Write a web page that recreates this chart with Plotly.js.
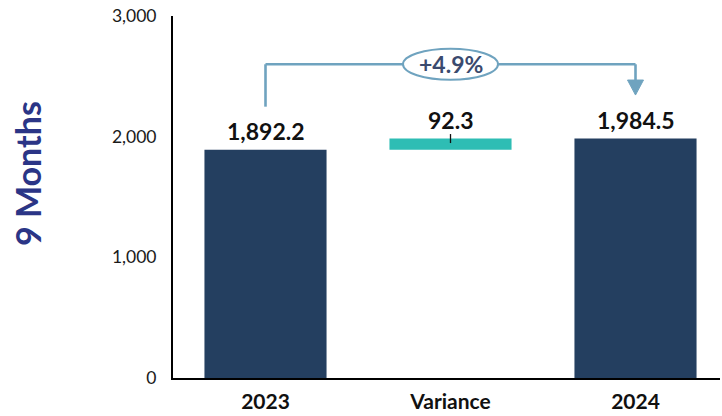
<!DOCTYPE html>
<html>
<head>
<meta charset="utf-8">
<script src="https://cdn.plot.ly/plotly-3.0.1.min.js"></script>
<style>
  html, body { margin: 0; padding: 0; background: #ffffff; }
  #chart { width: 722px; height: 416px; }
</style>
</head>
<body>
<div id="chart"></div>
<script>
// Nine-month bridge: 2023 total, variance, 2024 total
const categories = ['2023', 'Variance', '2024'];
const barBases   = [0, 1892.2, 0];
const barHeights = [1892.2, 92.3, 1984.5];
const barLabels  = ['1,892.2', '92.3', '1,984.5'];
const barColors  = ['#243F60', '#2EBDB4', '#243F60'];
const changeLabel = '+4.9%';
const yTickVals  = [0, 1000, 2000, 3000];
const yTickText  = ['0', '1,000', '2,000', '3,000'];

const idx = categories.map((_, i) => i);
const tops = barHeights.map((h, i) => h + barBases[i]);

// pixel scale helpers for decoration sizes
const catPx = 185;          // pixels per category
const unitPx = 362 / 3000;  // pixels per y unit
const dx = p => p / catPx;
const dy = p => p / unitPx;

const bridgeColor = '#6FA3BF';
const levelY = 2600;
const startY = tops[0] + dy(43);
const tipY = tops[2] + dy(43.5);
const headY = tipY + dy(15);

const trace = {
  type: 'bar',
  x: idx,
  y: barHeights,
  base: barBases,
  marker: { color: barColors, line: { width: 0 } },
  hoverinfo: 'skip',
  showlegend: false
};

const annotations = idx.map(i => ({
  x: i, y: tops[i], xref: 'x', yref: 'y',
  text: barLabels[i], showarrow: false,
  xanchor: 'center', yanchor: 'middle', yshift: 19,
  font: { family: 'Lato, sans-serif', size: 23, color: '#111111', weight: 700 }
}));

annotations.push({
  x: 1, y: levelY, xref: 'x', yref: 'y',
  text: changeLabel, showarrow: false,
  xanchor: 'center', yanchor: 'middle',
  font: { family: 'Lato, sans-serif', size: 23, color: '#3A4A6E', weight: 700 }
});

annotations.push({
  x: -146 / 547, y: (378 - 174) / 362, xref: 'paper', yref: 'paper',
  text: '9 Months', showarrow: false, textangle: -90,
  xanchor: 'center', yanchor: 'middle',
  font: { family: 'Lato, sans-serif', size: 34, color: '#2B3586', weight: 700 }
});

const shapes = [
  { type: 'line', xref: 'x', yref: 'y', x0: 0, x1: 0, y0: startY, y1: levelY,
    line: { color: bridgeColor, width: 2.6 } },
  { type: 'line', xref: 'x', yref: 'y', x0: 0, x1: 2, y0: levelY, y1: levelY,
    line: { color: bridgeColor, width: 2.6 } },
  { type: 'line', xref: 'x', yref: 'y', x0: 2, x1: 2, y0: levelY, y1: headY,
    line: { color: bridgeColor, width: 2.6 } },
  { type: 'path', xref: 'x', yref: 'y',
    path: `M ${2 - dx(8)} ${headY} L ${2 + dx(8)} ${headY} L 2 ${tipY} Z`,
    fillcolor: bridgeColor, line: { color: bridgeColor, width: 1 } },
  { type: 'circle', xref: 'x', yref: 'y',
    x0: 1 - dx(47.5), x1: 1 + dx(47.5), y0: levelY - dy(15.5), y1: levelY + dy(15.5),
    fillcolor: '#ffffff', line: { color: bridgeColor, width: 2 } },
  { type: 'line', xref: 'x', yref: 'y', x0: 1, x1: 1,
    y0: tops[1] - dy(4.5), y1: tops[1] + dy(4.5),
    line: { color: '#111111', width: 1.3 } }
];

const layout = {
  width: 722, height: 416,
  margin: { l: 173, r: 2, t: 16, b: 38, pad: 0 },
  paper_bgcolor: '#ffffff', plot_bgcolor: '#ffffff',
  bargap: 0.34,
  xaxis: {
    type: 'linear', range: [-0.5, -0.5 + 547 / catPx],
    tickvals: idx, ticktext: categories,
    showgrid: false, zeroline: false,
    showline: true, linecolor: '#000000', linewidth: 2,
    ticks: '', ticklabelstandoff: 4,
    tickfont: { family: 'Lato, sans-serif', size: 21, color: '#111111', weight: 700 },
    fixedrange: true
  },
  yaxis: {
    range: [0, 3000], tickvals: yTickVals, ticktext: yTickText,
    showgrid: false, zeroline: false,
    showline: true, linecolor: '#000000', linewidth: 2,
    ticks: '', ticklabelstandoff: 11,
    tickfont: { family: 'Lato, sans-serif', size: 17.5, color: '#1a1a1a' },
    fixedrange: true
  },
  shapes: shapes,
  annotations: annotations
};

Plotly.newPlot('chart', [trace], layout, { displayModeBar: false, staticPlot: true });
</script>
</body>
</html>
